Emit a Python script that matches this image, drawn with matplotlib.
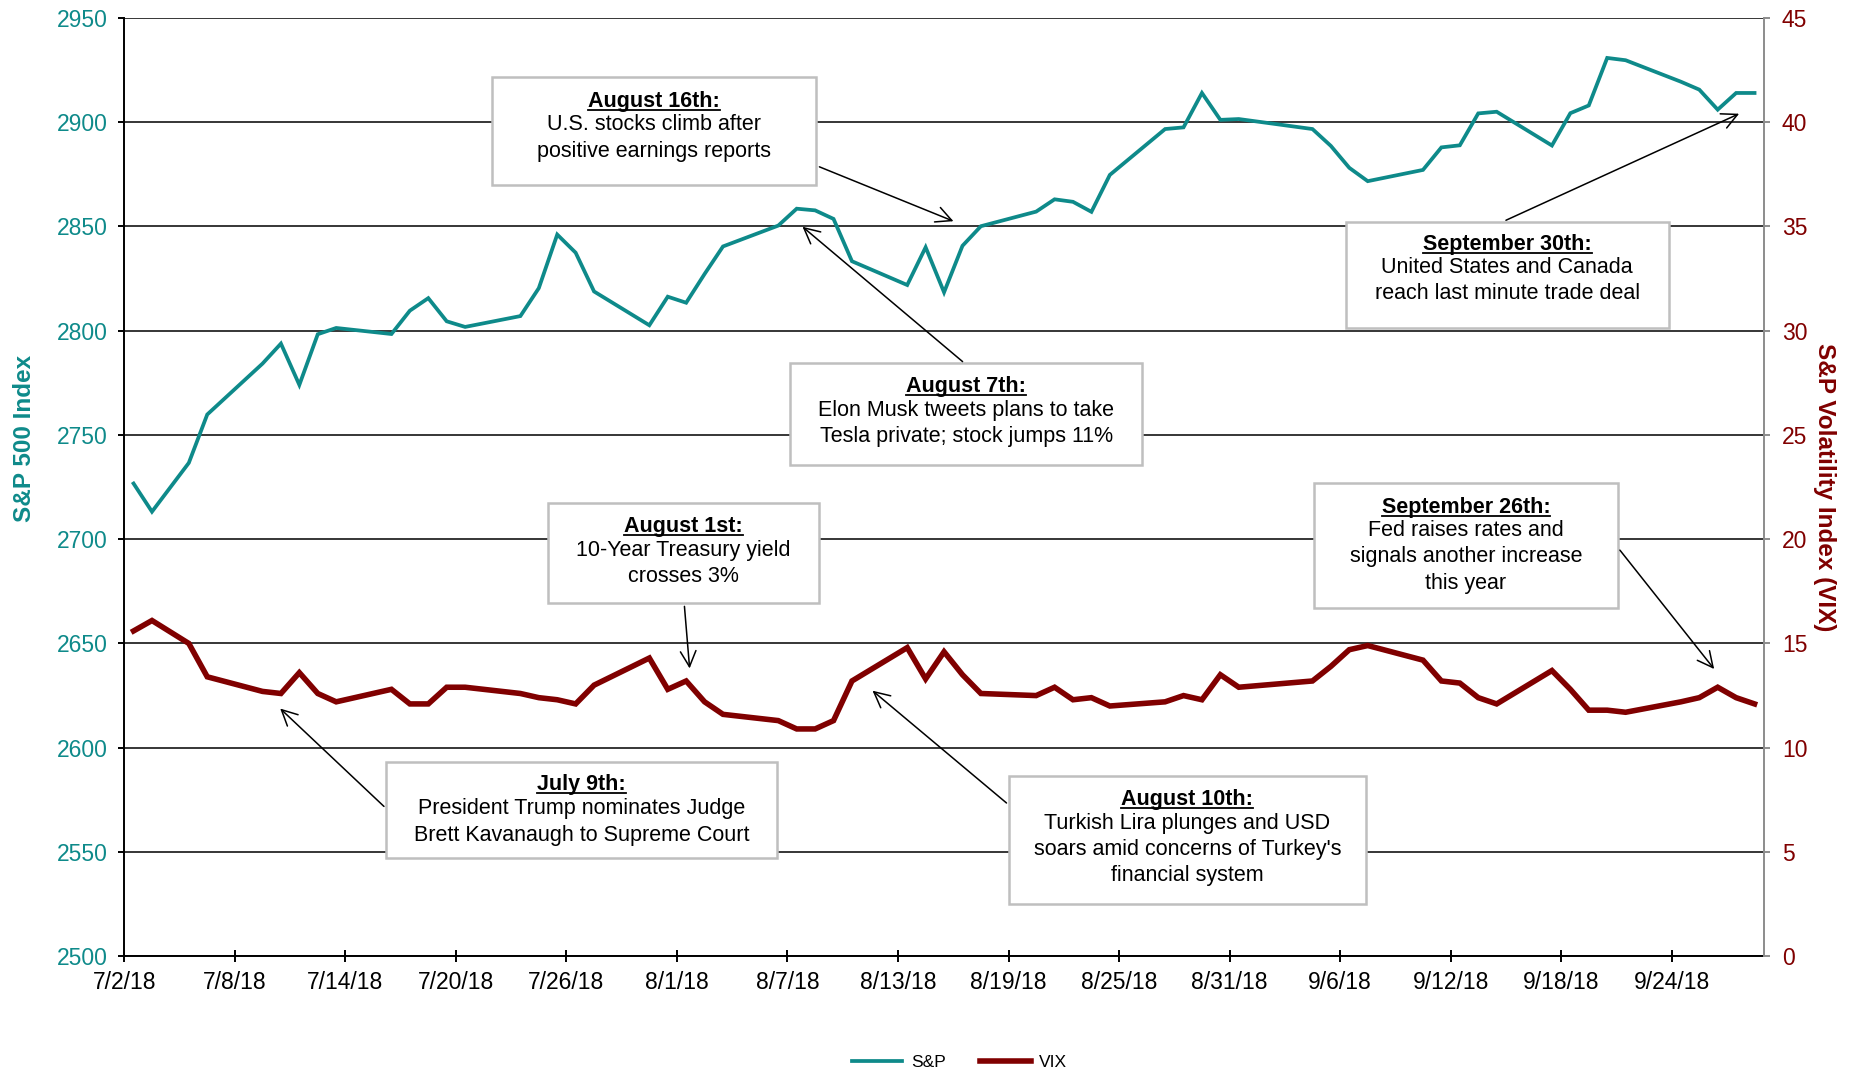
import numpy as np
import matplotlib
matplotlib.use('Agg')
import matplotlib.pyplot as plt
import matplotlib.dates as mdates
from matplotlib.patches import Rectangle
from matplotlib.lines import Line2D

plt.rcParams['font.family'] = ['Liberation Sans', 'DejaVu Sans']

# trading days, Jul 2 - Sep 28 2018
dates = ['2018-07-02', '2018-07-03', '2018-07-05', '2018-07-06', '2018-07-09', '2018-07-10',
         '2018-07-11', '2018-07-12', '2018-07-13', '2018-07-16', '2018-07-17', '2018-07-18',
         '2018-07-19', '2018-07-20', '2018-07-23', '2018-07-24', '2018-07-25', '2018-07-26',
         '2018-07-27', '2018-07-30', '2018-07-31',
         '2018-08-01', '2018-08-02', '2018-08-03', '2018-08-06', '2018-08-07', '2018-08-08',
         '2018-08-09', '2018-08-10', '2018-08-13', '2018-08-14', '2018-08-15', '2018-08-16',
         '2018-08-17', '2018-08-20', '2018-08-21', '2018-08-22', '2018-08-23', '2018-08-24',
         '2018-08-27', '2018-08-28', '2018-08-29', '2018-08-30', '2018-08-31',
         '2018-09-04', '2018-09-05', '2018-09-06', '2018-09-07', '2018-09-10', '2018-09-11',
         '2018-09-12', '2018-09-13', '2018-09-14', '2018-09-17', '2018-09-18', '2018-09-19',
         '2018-09-20', '2018-09-21', '2018-09-24', '2018-09-25', '2018-09-26', '2018-09-27',
         '2018-09-28']

sp = [2726.7, 2713.2, 2736.6, 2759.8, 2784.2, 2793.8, 2774.0, 2798.3, 2801.3, 2798.4,
      2809.6, 2815.6, 2804.5, 2801.8, 2807.0, 2820.4, 2846.1, 2837.4, 2818.8, 2802.6, 2816.3,
      2813.4, 2827.2, 2840.4, 2850.4, 2858.5, 2857.7, 2853.6, 2833.3, 2821.9, 2840.0,
      2818.4, 2840.7, 2850.1, 2857.1, 2863.0, 2861.8, 2857.0, 2874.7, 2896.7, 2897.5,
      2914.0, 2901.1, 2901.5,
      2896.7, 2888.6, 2878.1, 2871.7, 2877.1, 2887.9, 2888.9, 2904.2, 2905.0, 2888.8,
      2904.3, 2908.0, 2930.8, 2929.7, 2919.4, 2915.6, 2906.0, 2914.0, 2914.0]

vix = [15.6, 16.1, 15.0, 13.4, 12.7, 12.6, 13.6, 12.6, 12.2, 12.8, 12.1, 12.1, 12.9, 12.9,
       12.6, 12.4, 12.3, 12.1, 13.0, 14.3, 12.8,
       13.2, 12.2, 11.6, 11.3, 10.9, 10.9, 11.3, 13.2, 14.8, 13.3, 14.6, 13.5, 12.6, 12.5,
       12.9, 12.3, 12.4, 12.0, 12.2, 12.5, 12.3, 13.5, 12.9,
       13.2, 13.9, 14.7, 14.9, 14.2, 13.2, 13.1, 12.4, 12.1, 13.7, 12.8, 11.8, 11.8, 11.7,
       12.2, 12.4, 12.9, 12.4, 12.1]

teal = '#0E8A8A'
maroon = '#800000'

x = mdates.datestr2num(dates) + 0.5
start = mdates.datestr2num('2018-07-02')
end = mdates.datestr2num('2018-09-29')

fig = plt.figure(figsize=(18.56, 10.72), dpi=100)
ax = fig.add_axes([0.067, 0.108, 0.8833, 0.8753])
ax2 = ax.twinx()

l1, = ax.plot(x, sp, color=teal, linewidth=2.7, label='S&P', solid_joinstyle='miter')
l2, = ax2.plot(x, vix, color=maroon, linewidth=4.0, label='VIX', solid_joinstyle='miter')

ax.set_xlim(start, end)
ax.set_ylim(2500, 2950)
ax2.set_ylim(0, 45)
ax.set_yticks(np.arange(2500, 2951, 50))
ax2.set_yticks(np.arange(0, 46, 5))
ax.set_xticks(np.arange(start, start + 85, 6))
ax.xaxis.set_major_formatter(mdates.DateFormatter('%-m/%-d/%y'))

ax.grid(axis='y', color='black', linewidth=1.1)
ax.set_axisbelow(True)

ax.spines['top'].set_visible(False)
ax2.spines['top'].set_visible(False)
ax.spines['right'].set_visible(False)
ax2.spines['left'].set_visible(False)
ax2.spines['bottom'].set_visible(False)
ax.spines['left'].set_linewidth(1.4)
ax.spines['bottom'].set_linewidth(1.4)
ax2.spines['right'].set_color('#8C8C8C')
ax2.spines['right'].set_linewidth(1.4)

ax.tick_params(axis='y', colors='black', labelcolor=teal, labelsize=16.5, length=4, width=1.4, pad=8)
ax.tick_params(axis='x', labelsize=16.5, direction='inout', length=9, width=1.4, pad=6)
ax2.tick_params(axis='y', colors='#8C8C8C', labelcolor=maroon, labelsize=16.5, length=4, width=1.4, pad=9)

ax.set_ylabel('S&P 500 Index', color=teal, fontsize=17.5, fontweight='bold', va='center')
ax.yaxis.set_label_coords(-0.061, 0.552)
ax2.set_ylabel('S&P Volatility Index (VIX)', color=maroon, fontsize=17.5, fontweight='bold',
               rotation=270, va='center')
ax2.yaxis.set_label_coords(1.037, 0.50)

fig.legend([l1, l2], ['S&P', 'VIX'], loc='lower center', bbox_to_anchor=(0.517, -0.013),
           ncol=2, frameon=False, fontsize=12.5, handlelength=2.9, handletextpad=0.5,
           columnspacing=2.0)

# annotation boxes: (x0, x1, y0, y1) in axes fraction, title, body, title y, body y
notes = [
    ((0.224, 0.422, 0.822, 0.937), 'August 16th:', 'U.S. stocks climb after\npositive earnings reports', 0.911, 0.872),
    ((0.406, 0.621, 0.523, 0.632), 'August 7th:', 'Elon Musk tweets plans to take\nTesla private; stock jumps 11%', 0.607, 0.568),
    ((0.745, 0.942, 0.670, 0.783), 'September 30th:', 'United States and Canada\nreach last minute trade deal', 0.758, 0.720),
    ((0.2585, 0.4238, 0.376, 0.483), 'August 1st:', '10-Year Treasury yield\ncrosses 3%', 0.458, 0.4185),
    ((0.7256, 0.9112, 0.371, 0.504), 'September 26th:', 'Fed raises rates and\nsignals another increase\nthis year', 0.4785, 0.4255),
    ((0.1596, 0.3978, 0.105, 0.207), 'July 9th:', 'President Trump nominates Judge\nBrett Kavanaugh to Supreme Court', 0.1834, 0.143),
    ((0.5394, 0.7574, 0.0555, 0.1917), 'August 10th:', "Turkish Lira plunges and USD\nsoars amid concerns of Turkey's\nfinancial system", 0.167, 0.114),
]

titles = []
for (x0, x1, y0, y1), title, body, ty, by in notes:
    ax2.add_patch(Rectangle((x0, y0), x1 - x0, y1 - y0, transform=ax.transAxes,
                            facecolor='white', edgecolor='#BFBFBF', linewidth=1.8,
                            zorder=5, clip_on=False))
    cx = (x0 + x1) / 2
    t = ax2.text(cx, ty, title, transform=ax.transAxes, ha='center', va='center',
                 fontsize=15.5, fontweight='bold', zorder=6)
    titles.append(t)
    ax2.text(cx, by, body, transform=ax.transAxes, ha='center', va='center',
             fontsize=15.5, linespacing=1.32, zorder=6)

arrow = dict(arrowstyle='->', color='black', linewidth=1.1, mutation_scale=28)
# S&P arrows
ax2.annotate('', xy=(mdates.datestr2num('2018-08-16') + 0.15, 2852), xycoords=ax.transData,
             xytext=(0.4224, 0.8424), textcoords=ax.transAxes, arrowprops=arrow, zorder=7)
ax2.annotate('', xy=(mdates.datestr2num('2018-08-07') + 0.7, 2850.7), xycoords=ax.transData,
             xytext=(0.5126, 0.6318), textcoords=ax.transAxes, arrowprops=arrow, zorder=7)
ax2.annotate('', xy=(mdates.datestr2num('2018-09-27') + 0.8, 2904.6), xycoords=ax.transData,
             xytext=(0.8412, 0.7831), textcoords=ax.transAxes, arrowprops=arrow, zorder=7)
# VIX arrows
ax2.annotate('', xy=(mdates.datestr2num('2018-08-01') + 0.7, 13.67), xycoords='data',
             xytext=(0.3415, 0.3758), textcoords=ax.transAxes, arrowprops=arrow, zorder=7)
ax2.annotate('', xy=(mdates.datestr2num('2018-09-26') + 0.4, 13.67), xycoords='data',
             xytext=(0.9112, 0.4351), textcoords=ax.transAxes, arrowprops=arrow, zorder=7)
ax2.annotate('', xy=(mdates.datestr2num('2018-07-10') + 0.35, 11.97), xycoords='data',
             xytext=(0.1596, 0.1576), textcoords=ax.transAxes, arrowprops=arrow, zorder=7)
ax2.annotate('', xy=(mdates.datestr2num('2018-08-11') + 0.5, 12.82), xycoords='data',
             xytext=(0.5394, 0.1614), textcoords=ax.transAxes, arrowprops=arrow, zorder=7)

# underline the bold titles
fig.canvas.draw()
inv = fig.transFigure.inverted()
for t in titles:
    bb = t.get_window_extent()
    yy = bb.y0 + 0.1 * bb.height
    (fx0, fy), (fx1, _) = inv.transform([(bb.x0, yy), (bb.x1, yy)])
    fig.add_artist(Line2D([fx0, fx1], [fy, fy], color='black', linewidth=1.3, zorder=10))

fig.savefig('out.png', dpi=100)
